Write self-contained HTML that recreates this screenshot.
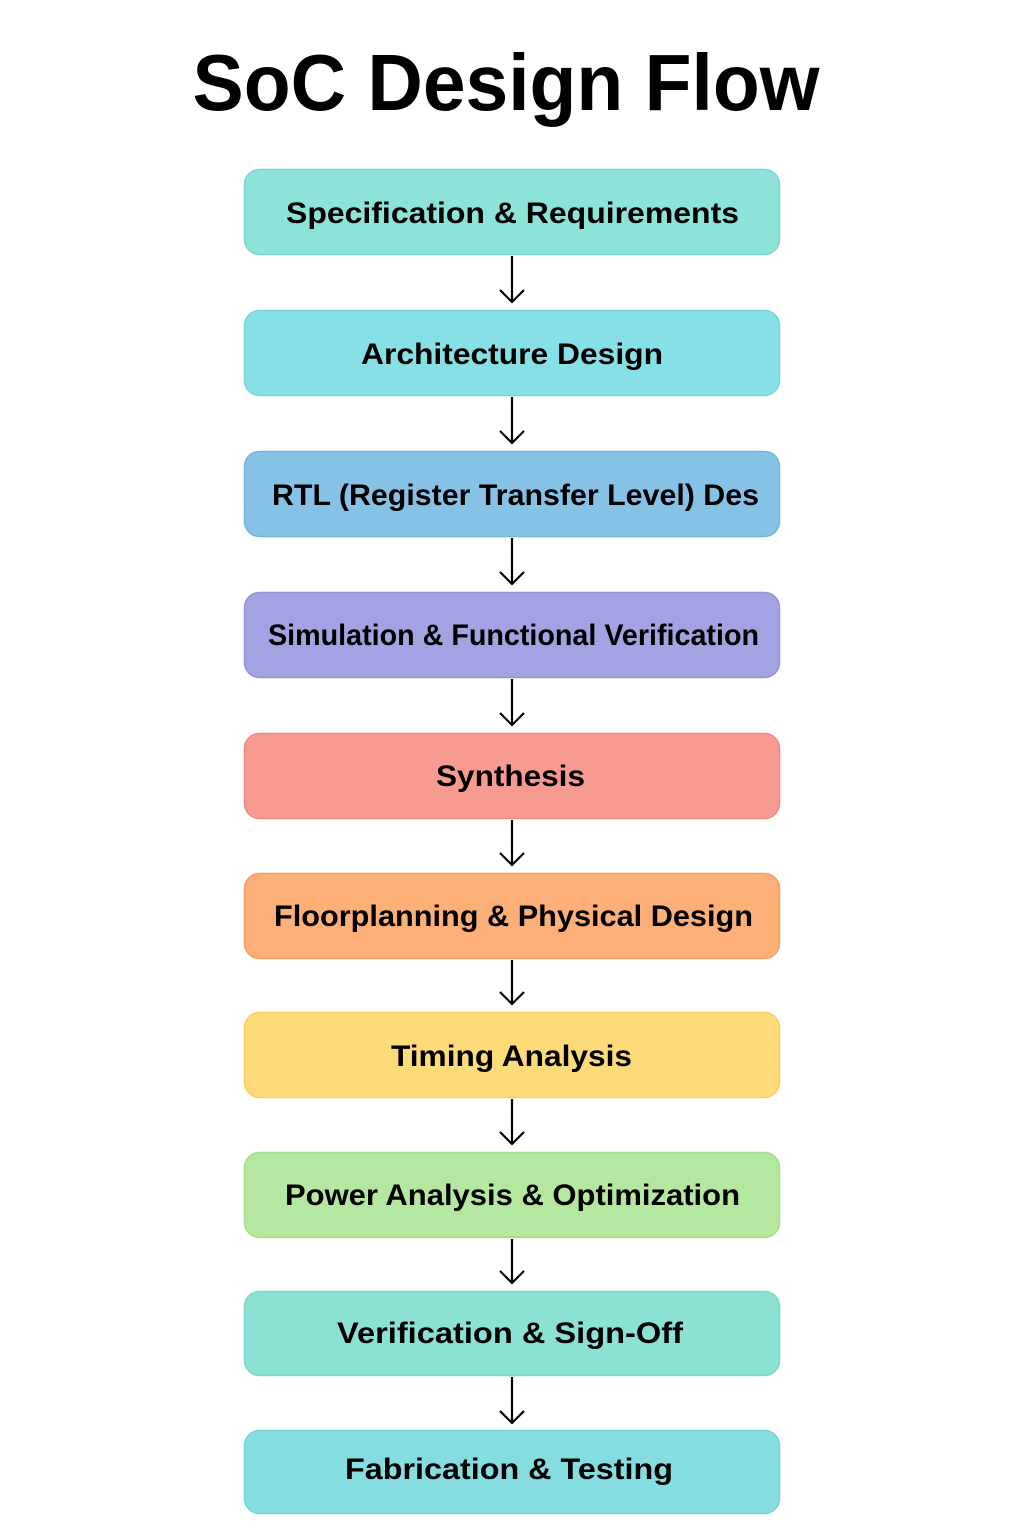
<!DOCTYPE html>
<html><head><meta charset="utf-8"><style>
html,body{margin:0;padding:0;background:#fff;}
svg{display:block;}
text{font-family:"Liberation Sans",sans-serif;font-weight:bold;fill:#000;}
</style></head><body>
<svg width="1024" height="1536" viewBox="0 0 1024 1536" xmlns="http://www.w3.org/2000/svg">
<text x="506" y="110" font-size="80" text-anchor="middle" textLength="627" lengthAdjust="spacingAndGlyphs">SoC Design Flow</text>
<g stroke-width="1.5">
<rect x="244.5" y="169.5" width="535" height="85" rx="15" fill="#8de3d8" stroke="#7dd9cc"/>
<rect x="244.5" y="310.5" width="535" height="85" rx="15" fill="#86e0e6" stroke="#76d6dc"/>
<rect x="244.5" y="451.5" width="535" height="85" rx="15" fill="#86c2e6" stroke="#76b4dc"/>
<rect x="244.5" y="592.5" width="535" height="85" rx="15" fill="#a3a3e3" stroke="#9393d8"/>
<rect x="244.5" y="733.5" width="535" height="85" rx="15" fill="#f79b90" stroke="#ee8b80"/>
<rect x="244.5" y="873.5" width="535" height="85" rx="15" fill="#fdaf78" stroke="#f3a068"/>
<rect x="244.5" y="1012.5" width="535" height="85" rx="15" fill="#fddb78" stroke="#f5d068"/>
<rect x="244.5" y="1152.5" width="535" height="85" rx="15" fill="#b4e8a0" stroke="#a4de90"/>
<rect x="244.5" y="1291.5" width="535" height="84" rx="15" fill="#8be2d4" stroke="#7bd8c8"/>
<rect x="244.5" y="1430.5" width="535" height="83" rx="15" fill="#86dde0" stroke="#76d3d6"/>
</g>
<g font-size="30">
<text x="286" y="223" textLength="453" lengthAdjust="spacingAndGlyphs">Specification &amp; Requirements</text>
<text x="361" y="364" textLength="302" lengthAdjust="spacingAndGlyphs">Architecture Design</text>
<text x="272" y="505" textLength="487" lengthAdjust="spacingAndGlyphs">RTL (Register Transfer Level) Des</text>
<text x="268" y="645" textLength="491" lengthAdjust="spacingAndGlyphs">Simulation &amp; Functional Verification</text>
<text x="436" y="786" textLength="149" lengthAdjust="spacingAndGlyphs">Synthesis</text>
<text x="274" y="926" textLength="479" lengthAdjust="spacingAndGlyphs">Floorplanning &amp; Physical Design</text>
<text x="391" y="1066" textLength="241" lengthAdjust="spacingAndGlyphs">Timing Analysis</text>
<text x="285" y="1205" textLength="455" lengthAdjust="spacingAndGlyphs">Power Analysis &amp; Optimization</text>
<text x="337" y="1343" textLength="346" lengthAdjust="spacingAndGlyphs">Verification &amp; Sign-Off</text>
<text x="345" y="1479" textLength="328" lengthAdjust="spacingAndGlyphs">Fabrication &amp; Testing</text>
</g>
<g stroke="#000" stroke-width="2.2" fill="none">
<path d="M512 256V302M500 290L512 302L524 290"/>
<path d="M512 397V443M500 431L512 443L524 431"/>
<path d="M512 538V584M500 572L512 584L524 572"/>
<path d="M512 679V725M500 713L512 725L524 713"/>
<path d="M512 820V865M500 853L512 865L524 853"/>
<path d="M512 960V1004M500 992L512 1004L524 992"/>
<path d="M512 1099V1144M500 1132L512 1144L524 1132"/>
<path d="M512 1239V1283M500 1271L512 1283L524 1271"/>
<path d="M512 1377V1423M500 1411L512 1423L524 1411"/>
</g>
</svg>
</body></html>
